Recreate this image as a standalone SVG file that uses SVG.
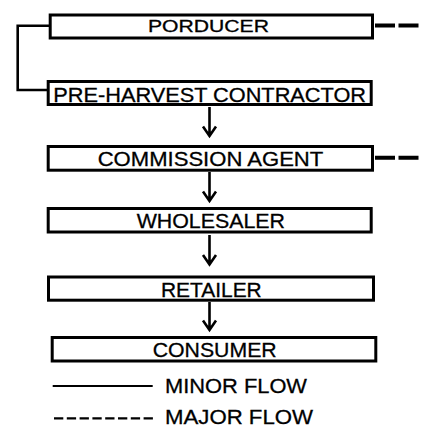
<svg xmlns="http://www.w3.org/2000/svg" width="422" height="425" viewBox="0 0 422 425">
<style>
.box{fill:#fff;stroke:#000;stroke-width:3}
.t{font-family:"Liberation Sans",Arial,sans-serif;font-size:21px;fill:#000;stroke:#000;stroke-width:0.3}
.c{fill:none;stroke:#000;stroke-width:2.6}
.d{fill:none;stroke:#000;stroke-width:4;stroke-dasharray:20 3.5}
</style>
<rect width="422" height="425" fill="#fff"/>
<g id="connectors">
<path class="c" d="M49 25.7H17.7V90H47"/>
<path class="c" d="M209.5 107V136M203 126.5L209.5 136L216 126.5"/>
<path class="c" d="M209.5 172V201M203 191.5L209.5 201L216 191.5"/>
<path class="c" d="M209.5 235V264.5M203 255L209.5 264.5L216 255"/>
<path class="c" d="M209.5 302V330M203 320.5L209.5 330L216 320.5"/>
<line class="d" x1="375" y1="25.5" x2="422" y2="25.5"/>
<line class="d" x1="375" y1="157.7" x2="422" y2="157.7"/>
</g>
<g id="producer"><rect class="box" x="50.2" y="15" width="322.3" height="23"/><text class="t" x="148" y="32" style="font-size:16.5px" textLength="121" lengthAdjust="spacingAndGlyphs">PORDUCER</text></g>
<g id="contractor"><rect class="box" x="48.2" y="81.5" width="323" height="23"/><text class="t" x="53.3" y="101.5" textLength="312.7" lengthAdjust="spacingAndGlyphs">PRE-HARVEST CONTRACTOR</text></g>
<g id="agent"><rect class="box" x="48.2" y="146.5" width="324.3" height="23.7"/><text class="t" x="97.7" y="165.5" textLength="225.6" lengthAdjust="spacingAndGlyphs">COMMISSION AGENT</text></g>
<g id="wholesaler"><rect class="box" x="48.2" y="208.5" width="323" height="23.5"/><text class="t" x="136.7" y="228.3" textLength="148.3" lengthAdjust="spacingAndGlyphs">WHOLESALER</text></g>
<g id="retailer"><rect class="box" x="48.5" y="277" width="325" height="23.2"/><text class="t" x="161" y="296.5" textLength="100.7" lengthAdjust="spacingAndGlyphs">RETAILER</text></g>
<g id="consumer"><rect class="box" x="52.2" y="337.5" width="323.6" height="23.5"/><text class="t" x="152.7" y="356.5" textLength="124" lengthAdjust="spacingAndGlyphs">CONSUMER</text></g>
<g id="legend">
<line x1="52.7" y1="386" x2="152.7" y2="386" stroke="#000" stroke-width="2"/>
<line x1="54" y1="418.3" x2="153" y2="418.3" stroke="#000" stroke-width="2.2" stroke-dasharray="9.3 3.5"/>
<text class="t" x="165" y="393.3" textLength="142" lengthAdjust="spacingAndGlyphs">MINOR FLOW</text>
<text class="t" x="165" y="423.5" textLength="148" lengthAdjust="spacingAndGlyphs">MAJOR FLOW</text>
</g>
</svg>
